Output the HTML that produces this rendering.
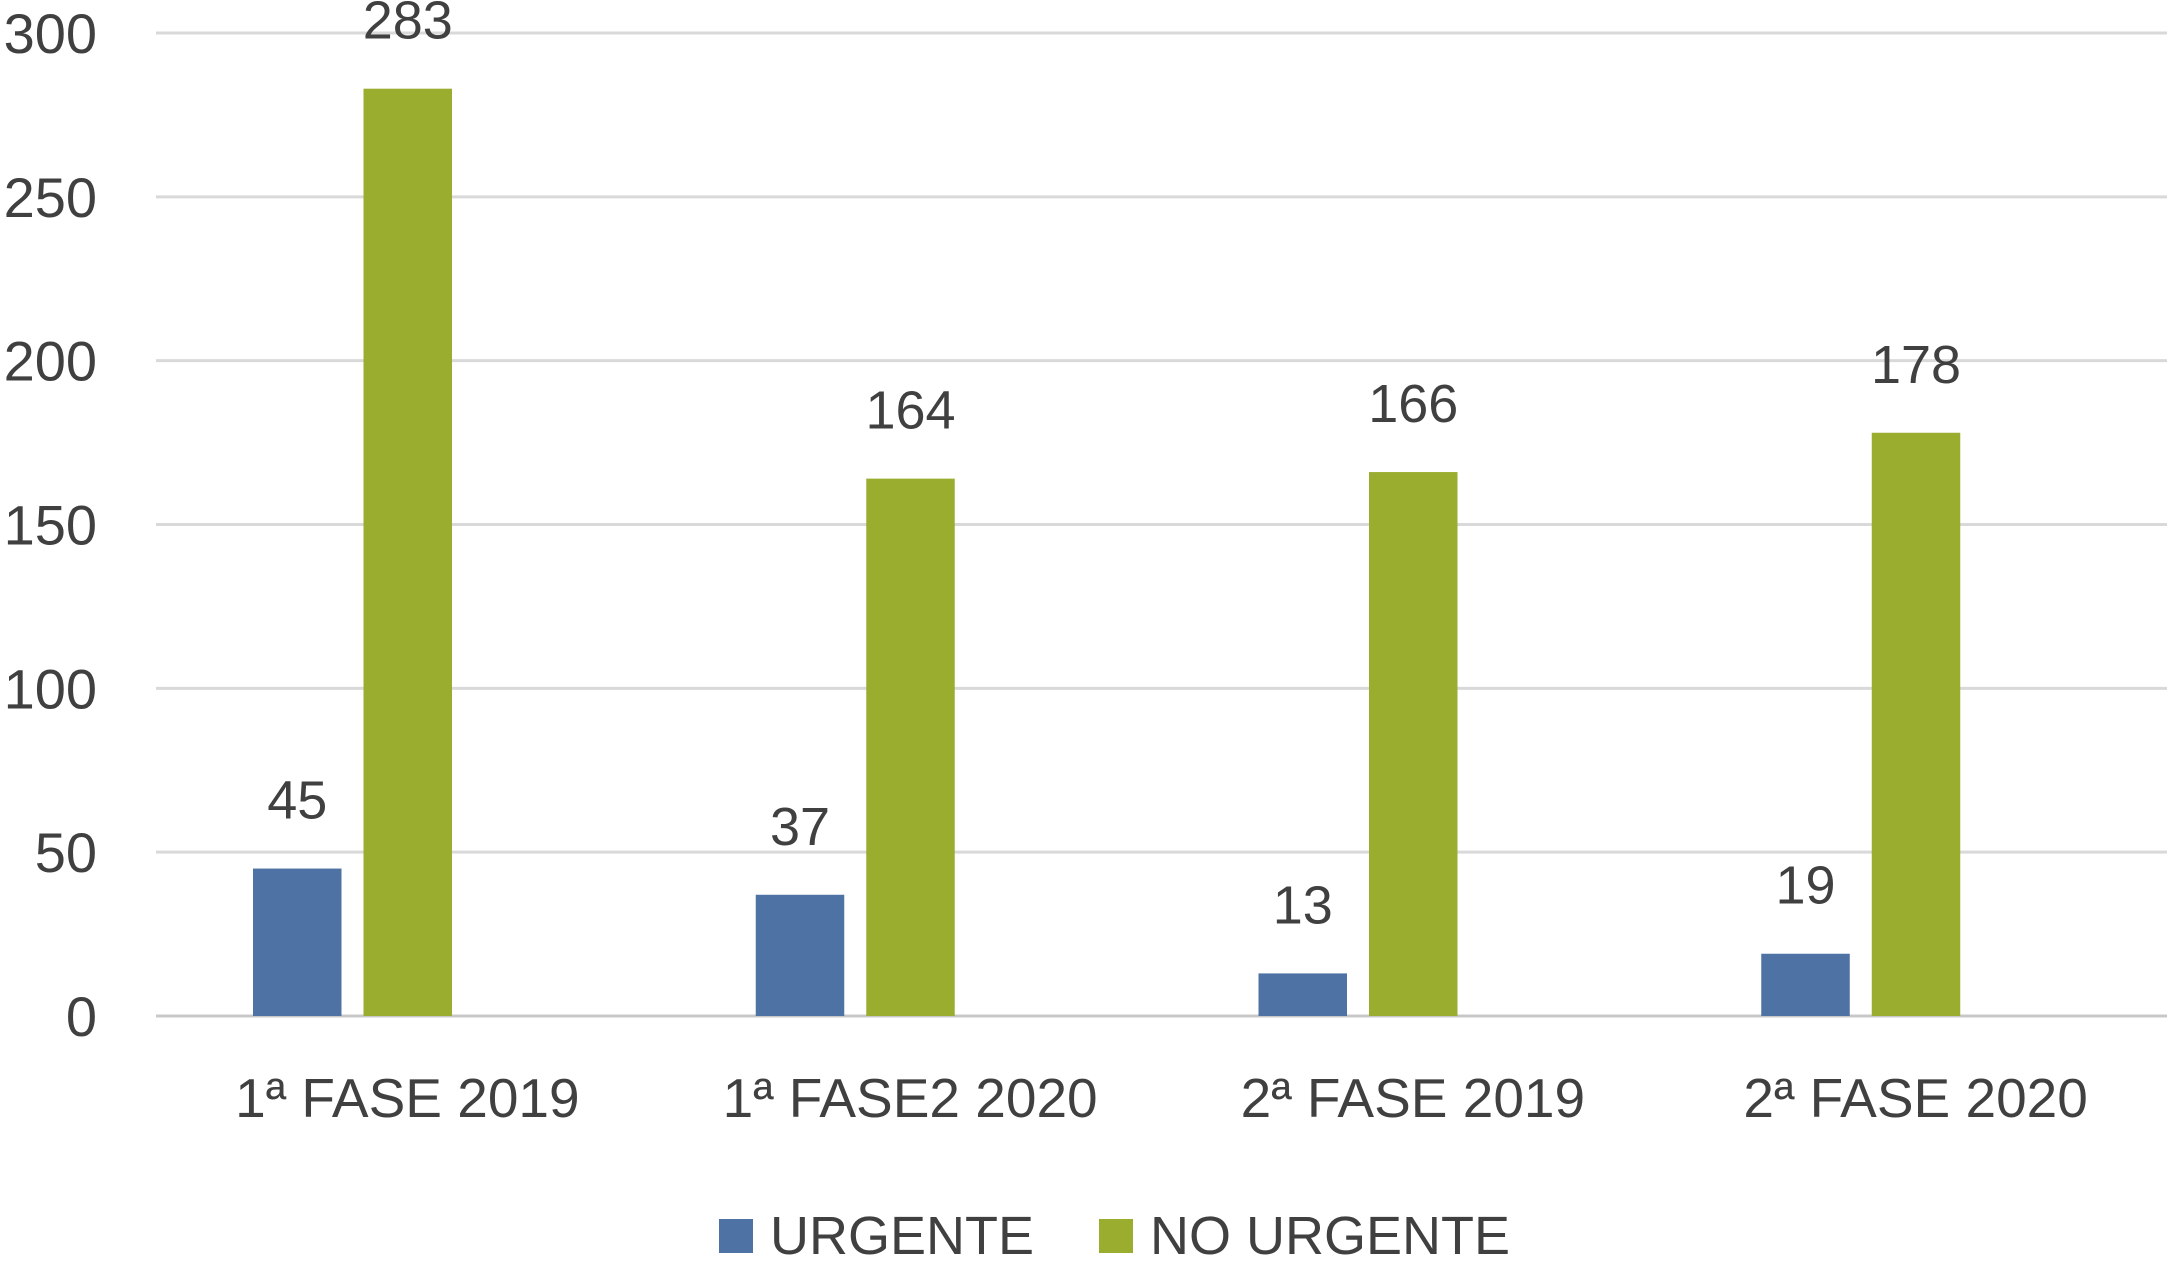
<!DOCTYPE html>
<html><head><meta charset="utf-8"><style>
html,body{margin:0;padding:0;background:#fff;}
svg text{font-family:"Liberation Sans",sans-serif;fill:#404040;}
</style></head><body>
<svg id="chart" width="2167" height="1260" viewBox="0 0 2167 1260" xmlns="http://www.w3.org/2000/svg">
<g id="grid"></g><g id="bars"></g><g id="labels"></g>
<g>
<rect x="719" y="1219" width="34" height="34" fill="#4e72a3"/>
<text x="770" y="1254" font-size="54">URGENTE</text>
<rect x="1099" y="1219" width="34" height="34" fill="#9aad2f"/>
<text x="1150" y="1254" font-size="54">NO URGENTE</text>
</g>
</svg>
<script>
const categories = ["1ª FASE 2019","1ª FASE2 2020","2ª FASE 2019","2ª FASE 2020"];
const urgente = [45,37,13,19];
const noUrgente = [283,164,166,178];
const ticks = [0,50,100,150,200,250,300];
const NS="http://www.w3.org/2000/svg";
const x0=156,x1=2167,y0=1016,yTop=33,maxV=300;
const y=v=>y0-(v/maxV)*(y0-yTop);
const gw=(x1-x0)/categories.length;
const grid=document.getElementById('grid'),bars=document.getElementById('bars'),labels=document.getElementById('labels');
function mk(tag,attrs,parent,text){const e=document.createElementNS(NS,tag);for(const k in attrs)e.setAttribute(k,attrs[k]);if(text!==undefined)e.textContent=text;parent.appendChild(e);return e;}
ticks.forEach(t=>{
  const l=mk('line',{x1:x0,x2:x1,y1:y(t),y2:y(t),stroke:t===0?'#c8c8c8':'#d9d9d9','stroke-width':3},grid);
  
  
  const tx=mk('text',{x:97,y:y(t)+20,'text-anchor':'end','font-size':56},grid,String(t));
  
  
});
const bw=88.5,off=97,gap=22;
categories.forEach((c,i)=>{
  const gx=x0+i*gw;
  [[urgente[i],'#4e72a3',gx+off],[noUrgente[i],'#9aad2f',gx+off+bw+gap]].forEach(([v,col,bx],j)=>{
    const r=mk('rect',{x:bx,y:y(v),width:bw,height:y0-y(v),fill:col},bars);
    
    
    const t=mk('text',{x:bx+bw/2,y:y(v)-50,'text-anchor':'middle','font-size':54},labels,String(v));
    
    
  });
  const ct=mk('text',{x:gx+gw/2,y:1117,'text-anchor':'middle','font-size':55},labels,c);
  
  
});
</script>
</body></html>
